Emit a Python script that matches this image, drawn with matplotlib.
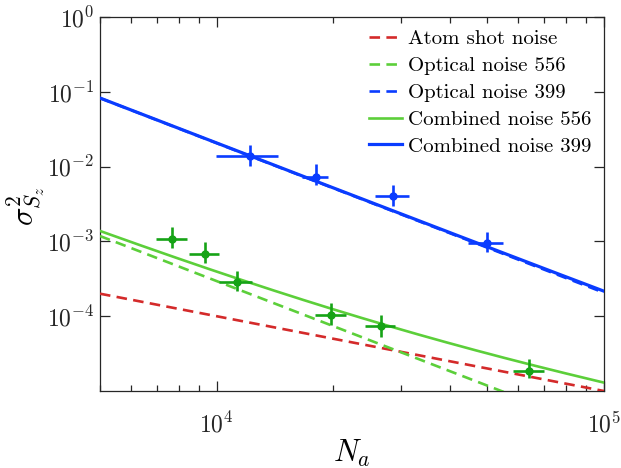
import numpy as np
import matplotlib
matplotlib.use("Agg")
import matplotlib.pyplot as plt
from matplotlib.ticker import LogLocator, NullLocator, NullFormatter, FixedLocator

plt.rcParams['font.family'] = ['cmr10', 'DejaVu Serif']
plt.rcParams['mathtext.fontset'] = 'cm'
plt.rcParams['axes.formatter.use_mathtext'] = True
plt.rcParams['axes.unicode_minus'] = False

# Noise model coefficients: variance = a / N (shot) and b / N^2 (optical)
shot_coeff = 1.0
optical_556_coeff = 2.95e4
optical_399_coeff = 2.06e6

# Measured points, 556 nm probe
n_556 = [7680, 9310, 11270, 19790, 26530, 64130]
n_556_err = [690, 830, 1100, 1800, 2400, 5800]
var_556 = [1.07e-3, 6.8e-4, 2.88e-4, 1.04e-4, 7.4e-5, 1.85e-5]
var_556_lo = [2.6e-4, 1.73e-4, 7.4e-5, 2.8e-5, 2.1e-5, 3.5e-6]
var_556_hi = [4.7e-4, 2.9e-4, 1.12e-4, 4.4e-5, 3.1e-5, 7.9e-6]

# Measured points, 399 nm probe
n_399 = [12190, 18030, 28500, 49770]
n_399_err = [2230, 1400, 2800, 5200]
var_399 = [1.38e-2, 7.3e-3, 4.03e-3, 9.4e-4]
var_399_lo = [3.64e-3, 1.64e-3, 1.07e-3, 2.2e-4]
var_399_hi = [5.6e-3, 3.5e-3, 1.63e-3, 4.0e-4]

x_range = (5e3, 1e5)
y_range = (1e-5, 1e0)
y_ticks = [1e-4, 1e-3, 1e-2, 1e-1, 1e0]

c_red = '#d42a2a'
c_lgreen = '#5ccf3a'
c_green = '#16a316'
c_blue = '#0a3cff'

fig = plt.figure(figsize=(6.21, 4.68), dpi=100)
ax = fig.add_axes([0.161, 0.1645, 0.9726 - 0.161, 0.9637 - 0.1645])
ax.set_xscale('log')
ax.set_yscale('log')

N = np.logspace(np.log10(x_range[0]), np.log10(x_range[1]), 300)
shot = shot_coeff / N
opt556 = optical_556_coeff / N**2
opt399 = optical_399_coeff / N**2

dash = (4.0, 2.4)
ax.plot(N, shot, color=c_red, lw=1.9, dashes=dash, label='Atom shot noise', zorder=3)
ax.plot(N, opt556, color=c_lgreen, lw=1.9, dashes=dash, label='Optical noise 556', zorder=3)
ax.plot(N, opt399, color=c_blue, lw=1.9, dashes=dash, label='Optical noise 399', zorder=3)
ax.plot(N, shot + opt556, color=c_lgreen, lw=1.9, label='Combined noise 556', zorder=3)
ax.plot(N, shot + opt399, color=c_blue, lw=2.3, label='Combined noise 399', zorder=3)

ax.errorbar(n_556, var_556, xerr=n_556_err, yerr=[var_556_lo, var_556_hi],
            fmt='o', color=c_green, ms=5, elinewidth=1.9, capsize=0, zorder=4)
ax.errorbar(n_399, var_399, xerr=n_399_err, yerr=[var_399_lo, var_399_hi],
            fmt='o', color=c_blue, ms=5, elinewidth=1.9, capsize=0, zorder=4)

ax.set_xlim(*x_range)
ax.set_ylim(*y_range)
ax.yaxis.set_major_locator(FixedLocator(y_ticks))
ax.yaxis.set_minor_locator(NullLocator())
ax.xaxis.set_major_locator(LogLocator(base=10))
ax.xaxis.set_minor_locator(LogLocator(base=10, subs=np.arange(2, 10)))
ax.xaxis.set_minor_formatter(NullFormatter())

ax.tick_params(which='both', direction='in', top=True, right=True,
               colors='#262626', labelcolor='#262626', labelsize=17, width=0.9)
ax.tick_params(which='major', length=7)
ax.tick_params(which='minor', length=4.5)
ax.tick_params(axis='x', pad=15)
ax.tick_params(axis='y', pad=4)
for s in ax.spines.values():
    s.set_color('#262626')
    s.set_linewidth(0.9)

ax.set_xlabel(r'$N_a$', fontsize=22, labelpad=0)
ax.set_ylabel(r'$\sigma^2_{S_z}$', fontsize=22)
ax.yaxis.set_label_coords(-0.105, 0.495)

ax.legend(loc='upper right', bbox_to_anchor=(1.0, 1.0), frameon=False,
          fontsize=15, handlelength=1.6, handletextpad=0.3, labelspacing=0.4,
          borderaxespad=0.2)

fig.savefig('out.png', dpi=100)
